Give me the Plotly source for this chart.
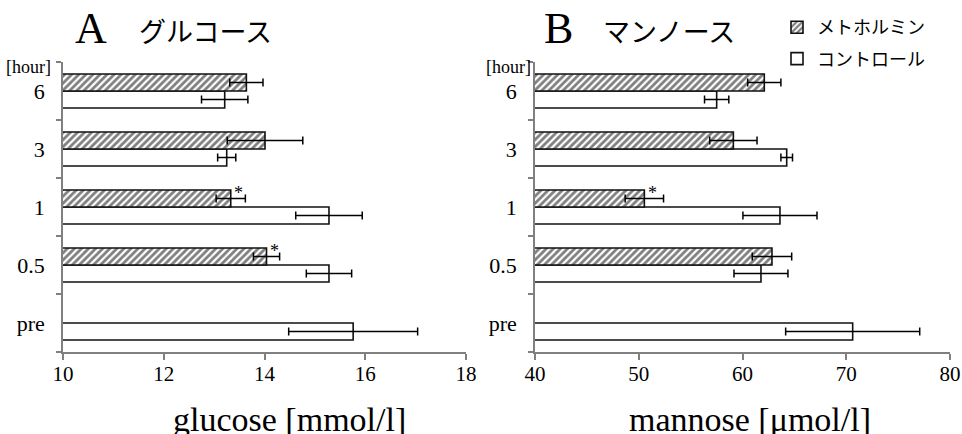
import plotly.graph_objects as go

# ---- data ----
hours = ["pre", "0.5", "1", "3", "6"]

glucose_control = [15.76, 15.28, 15.28, 13.25, 13.21]
glucose_control_se = [1.28, 0.45, 0.66, 0.18, 0.46]
glucose_metformin = [None, 14.04, 13.33, 14.01, 13.64]
glucose_metformin_se = [0, 0.26, 0.29, 0.75, 0.33]

mannose_control = [70.62, 61.78, 63.61, 64.26, 57.51]
mannose_control_se = [6.46, 2.6, 3.57, 0.56, 1.17]
mannose_metformin = [None, 62.84, 50.54, 59.12, 62.10]
mannose_metformin_se = [0, 1.9, 1.85, 2.28, 1.6]

glucose_sig = ["0.5", "1"]
mannose_sig = ["1"]

glucose_ticks = [10, 12, 14, 16, 18]
mannose_ticks = [40, 50, 60, 70, 80]

W, H = 962, 434
SERIF = "Liberation Serif, Times New Roman, serif"
JP = "Noto Sans CJK JP, sans-serif"
EDGE = "#111111"
AXC = "#808080"

def px_x(p):
    return p / W

def px_y(p):
    return (H - p) / H

fig = go.Figure()

def add_panel(xa, ctrl, ctrl_se, met, met_se, show):
    xs = "" if xa == 1 else str(xa)
    fig.add_trace(go.Bar(
        y=hours, x=ctrl, orientation="h", name="コントロール",
        xaxis="x" + xs, yaxis="y" + xs,
        marker=dict(color="white", line=dict(color=EDGE, width=1.6)),
        error_x=dict(type="data", array=ctrl_se, color="black", thickness=1.5, width=4),
        showlegend=show, legendgroup="c", legendrank=2, hoverinfo="skip"))
    fig.add_trace(go.Bar(
        y=hours, x=met, orientation="h", name="メトホルミン",
        xaxis="x" + xs, yaxis="y" + xs,
        marker=dict(color="white", line=dict(color=EDGE, width=1.6),
                    pattern=dict(shape="/", fgcolor="black", bgcolor="white",
                                 size=5, solidity=0.55)),
        error_x=dict(type="data", array=met_se, color="black", thickness=1.5, width=4),
        showlegend=show, legendgroup="m", legendrank=1, hoverinfo="skip"))

add_panel(1, glucose_control, glucose_control_se, glucose_metformin, glucose_metformin_se, True)
add_panel(2, mannose_control, mannose_control_se, mannose_metformin, mannose_metformin_se, False)

ydom = [px_y(352), px_y(62)]
xaxis_common = dict(showgrid=False, zeroline=False, showline=True, linecolor=AXC, linewidth=1.5,
                    ticks="outside", ticklen=6, tickcolor=AXC, tickwidth=1.5,
                    ticklabelstandoff=-4,
                    tickfont=dict(family=SERIF, size=21, color="black"), automargin=False)
yaxis_common = dict(type="category", categoryorder="array", categoryarray=hours,
                    range=[-0.5, 4.5], showgrid=False, zeroline=False, showline=True,
                    linecolor=AXC, linewidth=1.5, ticks="outside", ticklen=5,
                    tickcolor=AXC, tickwidth=1.5, tickson="boundaries",
                    ticklabelstandoff=12,
                    tickfont=dict(family=SERIF, size=22, color="black"), automargin=False)

fig.update_layout(
    width=W, height=H,
    margin=dict(l=0, r=0, t=0, b=0),
    paper_bgcolor="white", plot_bgcolor="white",
    barmode="group", bargap=0.414, bargroupgap=0,
    xaxis=dict(domain=[px_x(63), px_x(466)], range=[10, 18], tickvals=glucose_ticks,
               anchor="y", **xaxis_common),
    yaxis=dict(domain=ydom, anchor="x", **yaxis_common),
    xaxis2=dict(domain=[px_x(535), px_x(950)], range=[40, 80], tickvals=mannose_ticks,
                anchor="y2", **xaxis_common),
    yaxis2=dict(domain=ydom, anchor="x2", **yaxis_common),
    legend=dict(x=px_x(777), y=px_y(9), xanchor="left", yanchor="top",
                font=dict(family=JP, size=18, color="black"),
                bgcolor="rgba(0,0,0,0)", tracegroupgap=5, itemwidth=30),
    showlegend=True,
)

ann = []
# panel titles
ann.append(dict(text="A", x=px_x(91), y=px_y(29), font=dict(family=SERIF, size=44, color="black")))
ann.append(dict(text="グルコース", x=px_x(205), y=px_y(30), font=dict(family=JP, size=27, color="black")))
ann.append(dict(text="B", x=px_x(558), y=px_y(29), font=dict(family=SERIF, size=44, color="black")))
ann.append(dict(text="マンノース", x=px_x(669), y=px_y(30), font=dict(family=JP, size=27, color="black")))
# hour labels
ann.append(dict(text="[hour]", x=px_x(53), y=px_y(67), xanchor="right",
                font=dict(family=SERIF, size=18, color="black")))
ann.append(dict(text="[hour]", x=px_x(533), y=px_y(67), xanchor="right",
                font=dict(family=SERIF, size=18, color="black")))
# axis titles
ann.append(dict(text="glucose [mmol/l]", x=px_x(289), y=px_y(419),
                font=dict(family=SERIF, size=34, color="black")))
ann.append(dict(text="mannose [μmol/l]", x=px_x(750), y=px_y(419),
                font=dict(family=SERIF, size=34, color="black")))
for a in ann:
    a.update(xref="paper", yref="paper", showarrow=False)
    a.setdefault("xanchor", "center")
    a.setdefault("yanchor", "middle")

# significance stars (category index positions)
for h in glucose_sig:
    i = hours.index(h)
    ann.append(dict(text="*", x=glucose_metformin[i], y=i, xref="x", yref="y", xshift=8, yshift=14,
                    showarrow=False, font=dict(family=SERIF, size=18, color="black")))
for h in mannose_sig:
    i = hours.index(h)
    ann.append(dict(text="*", x=mannose_metformin[i], y=i, xref="x2", yref="y2", xshift=8, yshift=14,
                    showarrow=False, font=dict(family=SERIF, size=18, color="black")))

fig.update_layout(annotations=ann)
fig.write_html("out.html", config={"displayModeBar": False},
               post_script="document.body.style.margin='0';")
